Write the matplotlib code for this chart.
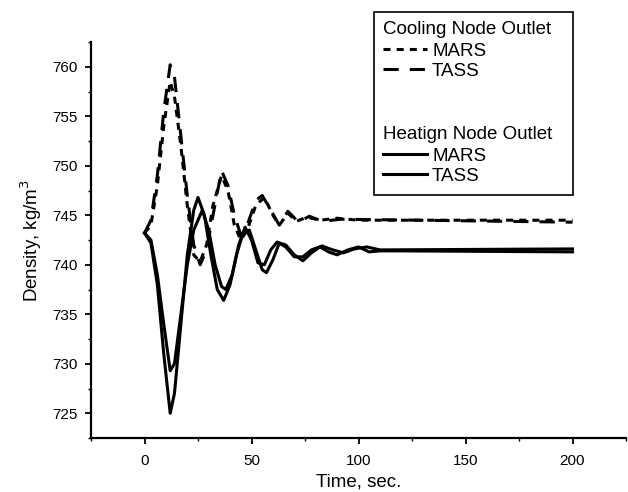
import matplotlib
matplotlib.use("Agg")
import matplotlib.pyplot as plt
from matplotlib.patches import Rectangle
from matplotlib.ticker import MultipleLocator

plt.rcParams['font.family'] = ['Liberation Sans', 'DejaVu Sans']

# Cooling node outlet (dashed)
t_cool_mars = [0, 3, 6, 9, 12, 14, 17, 20, 23, 26, 29, 32, 36, 39, 42, 45, 48, 52, 56,
               60, 63, 67, 71, 76, 82, 90, 100, 200]
v_cool_mars = [743.2, 744.0, 748.0, 754.0, 758.5, 757.0, 752.0, 746.0, 741.0, 740.3, 742.0,
               746.0, 749.0, 747.5, 744.0, 742.5, 743.5, 746.0, 746.8, 745.0, 744.0, 745.2,
               744.4, 744.8, 744.5, 744.7, 744.5, 744.5]
t_cool_tass = [0, 3, 6, 9, 12, 14, 17, 20, 23, 26, 29, 32, 36, 39, 42, 45, 48, 52, 55,
               59, 63, 67, 72, 77, 83, 92, 200]
v_cool_tass = [743.2, 744.5, 749.0, 755.5, 760.2, 759.0, 753.0, 747.0, 742.0, 740.0, 741.5,
               745.0, 749.5, 748.0, 745.0, 743.0, 744.0, 746.5, 747.0, 745.5, 744.0, 745.4,
               744.3, 744.9, 744.4, 744.6, 744.3]

# Heating node outlet (solid)
t_heat_mars = [0, 3, 6, 9, 12, 14, 17, 20, 23, 25, 28, 31, 34, 37, 40, 43, 46, 49, 52, 55,
               57, 60, 63, 66, 70, 74, 78, 82, 86, 90, 95, 100, 105, 110, 120, 200]
v_heat_mars = [743.2, 742.2, 738.0, 731.0, 725.0, 727.0, 734.0, 741.0, 745.5, 746.8, 745.0,
               741.0, 737.5, 736.4, 738.0, 741.0, 743.2, 743.5, 741.5, 739.5, 739.2, 740.5,
               742.2, 742.0, 741.0, 740.4, 741.2, 741.8, 741.3, 741.0, 741.5, 741.8, 741.3,
               741.4, 741.4, 741.3]
t_heat_tass = [0, 3, 6, 9, 12, 14, 17, 20, 23, 27, 30, 33, 36, 38, 41, 44, 47, 50, 53, 56,
               59, 62, 66, 70, 74, 78, 83, 88, 93, 98, 104, 110, 200]
v_heat_tass = [743.2, 742.5, 739.0, 734.0, 729.3, 730.0, 735.0, 740.0, 743.5, 745.5, 743.5,
               740.0, 737.8, 737.5, 739.0, 742.0, 743.8, 742.5, 740.2, 740.0, 741.5, 742.3,
               741.8, 740.8, 740.8, 741.5, 741.9, 741.5, 741.2, 741.6, 741.8, 741.5, 741.6]

fig = plt.figure(figsize=(6.28, 4.92), dpi=100)
ax = fig.add_axes([91 / 628, 54 / 492, 535 / 628, 396 / 492])

lw = 2.2
l_cm, = ax.plot(t_cool_mars, v_cool_mars, color='black', lw=lw, dashes=(2.3, 2.0))
l_ct, = ax.plot(t_cool_tass, v_cool_tass, color='black', lw=lw, dashes=(5.0, 3.6))
l_hm, = ax.plot(t_heat_mars, v_heat_mars, color='black', lw=lw)
l_ht, = ax.plot(t_heat_tass, v_heat_tass, color='black', lw=lw)

ax.set_xlim(-25, 225)
ax.set_ylim(722.5, 762.5)
ax.xaxis.set_major_locator(MultipleLocator(50))
ax.xaxis.set_minor_locator(MultipleLocator(25))
ax.yaxis.set_major_locator(MultipleLocator(5))
ax.yaxis.set_minor_locator(MultipleLocator(2.5))
ax.spines['top'].set_visible(False)
ax.spines['right'].set_visible(False)
ax.spines['left'].set_linewidth(1.6)
ax.spines['bottom'].set_linewidth(1.6)
ax.tick_params(which='major', direction='out', length=4.5, width=1.3, labelsize=11)
ax.tick_params(which='minor', direction='out', length=2.5, width=1.0)
ax.tick_params(axis='x', pad=7)
ax.tick_params(axis='y', pad=5)

ax.set_xlabel('Time, sec.', fontsize=13.5, labelpad=4)
ax.set_ylabel('Density, kg/m$^3$', fontsize=13.5, labelpad=6)

# legend: two stacked legends inside one frame
leg_kw = dict(frameon=False, fontsize=13.5, title_fontsize=13.5, alignment='left',
              loc='upper left', bbox_transform=fig.transFigure, borderaxespad=0,
              borderpad=0.5, handlelength=2.3, handletextpad=0.3, labelspacing=0.15)
leg1 = ax.legend(handles=[l_cm, l_ct], labels=['MARS', 'TASS'],
                 title='Cooling Node Outlet',
                 bbox_to_anchor=(374 / 628, 1 - 12 / 492), **leg_kw)
ax.add_artist(leg1)
leg2 = ax.legend(handles=[l_hm, l_ht], labels=['MARS', 'TASS'],
                 title='Heatign Node Outlet',
                 bbox_to_anchor=(374 / 628, 1 - 117 / 492), **leg_kw)
for leg in (leg1, leg2):
    leg._legend_box.sep = 3

fig.add_artist(Rectangle((374 / 628, 1 - 195 / 492), 199 / 628, 183 / 492,
                         transform=fig.transFigure, fill=False, lw=1.2, ec='black'))

fig.savefig('out.png', dpi=100)
